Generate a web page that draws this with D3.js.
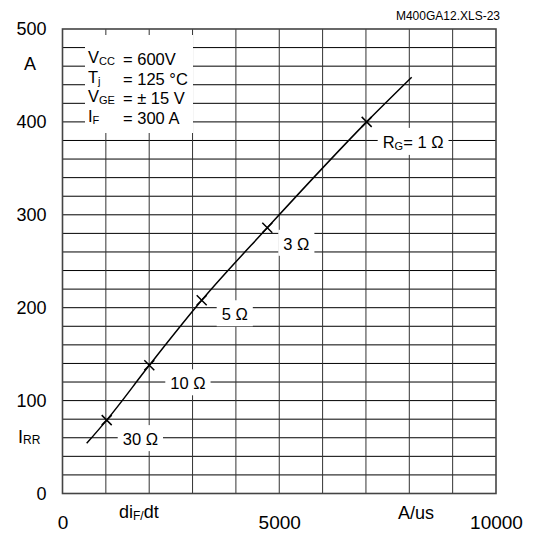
<!DOCTYPE html>
<html>
<head>
<meta charset="utf-8">
<script src="https://cdn.jsdelivr.net/npm/d3@7"></script>
<style>
  body { margin: 0; background: #fff; }
  svg text { font-family: "Liberation Sans", Arial, sans-serif; fill: #000; }
</style>
</head>
<body>
<svg id="chart" width="533" height="533"></svg>
<script>
// data
const curveRate = [558, 1020, 2002, 3211, 4724, 7017, 8055];   // diF/dt, A/us
const curveIrr  = [54, 79, 138, 208, 286, 400, 448];             // IRR, A
const markerRate = [1020, 2002, 3211, 4724, 7017];
const markerIrr  = [79, 138, 208, 286, 400];
const markerLabel = ["30 Ω", "10 Ω", "5 Ω", "3 Ω", "1 Ω"];
const yTickLabels = [0, 100, 200, 300, 400, 500];
const xTickLabels = [0, 5000, 10000];
const condName = [["V", "CC"], ["T", "j"], ["V", "GE"], ["I", "F"]];
const condValue = ["= 600V", "= 125 °C", "= ± 15 V", "= 300 A"];

// label offset from its marker (text start, baseline)
const labelOffset = [[16, 25], [21, 24], [20, 20], [16, 22], [16, 26]];

const svg = d3.select("#chart");
const x = d3.scaleLinear().domain([0, 10000]).range([62.5, 496]);
const y = d3.scaleLinear().domain([0, 500]).range([493.5, 29]);

// grid
const grid = svg.append("g").attr("stroke", "#000").attr("stroke-width", 1);
grid.selectAll("line.h")
  .data(d3.range(20, 500, 20))
  .enter().append("line")
  .attr("x1", x(0)).attr("x2", x(10000))
  .attr("y1", d => y(d)).attr("y2", d => y(d));
grid.selectAll("line.v")
  .data(d3.range(1000, 10000, 1000))
  .enter().append("line")
  .attr("stroke", "#333")
  .attr("y1", y(0)).attr("y2", y(500))
  .attr("x1", d => x(d)).attr("x2", d => x(d));

svg.append("rect")
  .attr("x", x(0)).attr("y", y(500))
  .attr("width", x(10000) - x(0)).attr("height", y(0) - y(500))
  .attr("fill", "none").attr("stroke", "#444").attr("stroke-width", 1.6);

// axes labels
const yAxis = svg.append("g")
  .attr("transform", "translate(" + x(0) + ",0)")
  .call(d3.axisLeft(y).tickValues(yTickLabels).tickSize(0).tickPadding(16));
yAxis.select(".domain").remove();
yAxis.selectAll("text").style("font-size", "18px").attr("fill", "#000")
  .style("font-family", "Liberation Sans, Arial, sans-serif");

const xAxis = svg.append("g")
  .attr("transform", "translate(0," + y(0) + ")")
  .call(d3.axisBottom(x).tickValues(xTickLabels).tickFormat(d3.format("d")).tickSize(0).tickPadding(22));
xAxis.select(".domain").remove();
xAxis.selectAll("text").style("font-size", "19px").attr("fill", "#000")
  .style("font-family", "Liberation Sans, Arial, sans-serif");

// conditions box
svg.append("rect").attr("x", 85).attr("y", 35).attr("width", 108).attr("height", 98).attr("fill", "#fff");
condName.forEach((n, i) => {
  const by = 65 + i * 19.5;
  const t = svg.append("text").attr("x", 88).attr("y", by - 2).style("font-size", "16.5px");
  t.append("tspan").text(n[0]);
  t.append("tspan").attr("dy", 2).style("font-size", "11px").text(n[1]);
  svg.append("text").attr("x", 123).attr("y", by).style("font-size", "16.5px").text(condValue[i]);
});

// marker labels with white boxes
const labels = svg.append("g");
markerLabel.forEach((lab, i) => {
  const lx = x(markerRate[i]) + labelOffset[i][0];
  const ly = y(markerIrr[i]) + labelOffset[i][1];
  const g = labels.append("g");
  const box = g.append("rect").attr("fill", "#fff");
  const t = g.append("text").attr("x", lx).attr("y", ly).style("font-size", "16.5px");
  if (i === markerLabel.length - 1) {
    t.append("tspan").text("R");
    t.append("tspan").attr("dy", 2).style("font-size", "11px").text("G");
    t.append("tspan").attr("dy", -2).text("= " + lab);
  } else {
    t.text(lab);
  }
  const b = t.node().getBBox();
  box.attr("x", b.x - 5).attr("y", b.y - 5).attr("width", b.width + 10).attr("height", b.height + 8);
});

// curve
const pts = curveRate.map((r, i) => [r, curveIrr[i]]);
svg.append("path")
  .datum(pts)
  .attr("fill", "none").attr("stroke", "#000").attr("stroke-width", 1.5)
  .attr("d", d3.line().x(d => x(d[0])).y(d => y(d[1])).curve(d3.curveMonotoneX));

// cross markers
const m = svg.append("g").attr("stroke", "#000").attr("stroke-width", 1.5);
markerRate.forEach((r, i) => {
  const cx = x(r), cy = y(markerIrr[i]);
  m.append("path").attr("d", "M" + (cx - 5) + "," + (cy - 5) + "L" + (cx + 5) + "," + (cy + 5) +
    "M" + (cx - 5) + "," + (cy + 5) + "L" + (cx + 5) + "," + (cy - 5));
});

// axis titles and file tag
svg.append("text").attr("x", 30).attr("y", 70).attr("text-anchor", "middle").style("font-size", "18px").text("A");
const irr = svg.append("text").attr("x", 18).attr("y", 443).style("font-size", "18px");
irr.append("tspan").text("I");
irr.append("tspan").attr("dy", 1).style("font-size", "12px").text("RR");

const dif = svg.append("text").attr("x", 119).attr("y", 518).style("font-size", "18px");
dif.append("tspan").text("di");
dif.append("tspan").attr("dy", 2).style("font-size", "12px").text("F/");
dif.append("tspan").attr("dy", -2).text("dt");

svg.append("text").attr("x", 398).attr("y", 519).style("font-size", "18px").text("A/us");
svg.append("text").attr("x", 500).attr("y", 20).attr("text-anchor", "end").style("font-size", "12px").text("M400GA12.XLS-23");
</script>
</body>
</html>
